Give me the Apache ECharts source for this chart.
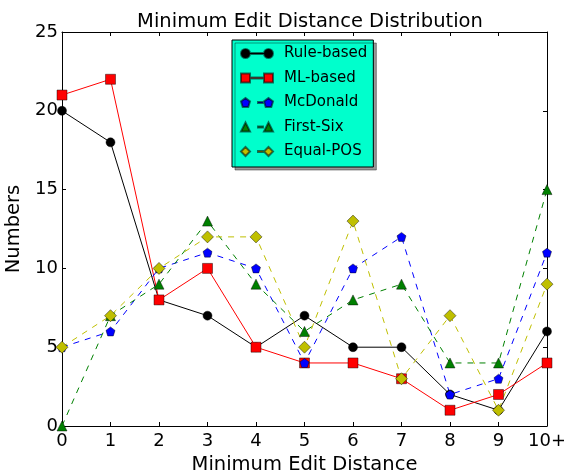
<!DOCTYPE html>
<html>
<head>
<meta charset="utf-8">
<script src="https://cdn.jsdelivr.net/npm/echarts@6/dist/echarts.min.js"></script>
<style>
  html, body { margin: 0; padding: 0; background: #fff; }
  #chart { width: 564px; height: 475px; }
</style>
</head>
<body>
<div id="chart"></div>
<script>
// categories on the x axis
const distances = ['0', '1', '2', '3', '4', '5', '6', '7', '8', '9', '10+']
// counts per method
const ruleBased = [20, 18, 8, 7, 5, 7, 5, 5, 2, 1, 6]
const mlBased = [21, 22, 8, 10, 5, 4, 4, 3, 1, 2, 4]
const mcDonald = [5, 6, 10, 11, 10, 4, 10, 12, 2, 3, 11]
const firstSix = [0, 7, 9, 13, 9, 6, 8, 9, 4, 4, 15]
const equalPos = [5, 7, 10, 12, 12, 5, 13, 3, 7, 1, 9]

const font = 'DejaVu Sans'
const pentagon = 'path://M0,-1 L0.951,-0.309 L0.588,0.809 L-0.588,0.809 L-0.951,-0.309 Z'

// legend icons: marker - line - marker, like matplotlib (box 32 x 9)
const marker = {
  circle: x => 'M' + x + ',4.5 a4.5,4.5 0 1,0 9,0 a4.5,4.5 0 1,0 -9,0 ',
  rect: x => 'M' + x + ',0 h9 v9 h-9 Z ',
  pentagon: x => 'M' + (x + 4.5) + ',0 L' + (x + 9) + ',3.4 L' + (x + 7.3) + ',9 L' + (x + 1.7) + ',9 L' + x + ',3.4 Z ',
  triangle: x => 'M' + x + ',9 L' + (x + 4.5) + ',0 L' + (x + 9) + ',9 Z ',
  diamond: x => 'M' + (x + 4.5) + ',0 L' + (x + 9) + ',4.5 L' + (x + 4.5) + ',9 L' + x + ',4.5 Z '
}
function legendIcon(shape, dashed) {
  let p = 'path://' + marker[shape](0) + marker[shape](23)
  if (dashed) {
    p += 'M17,4 h5 v1 h-5 Z '
  } else {
    p += 'M9,4 h14 v1 h-14 Z '
  }
  return p
}

const chart = echarts.init(document.getElementById('chart'))

function makeSeries(name, data, color, symbol, size, dashed) {
  return {
    name: name,
    type: 'line',
    data: data,
    xAxisIndex: 0,
    yAxisIndex: 0,
    symbol: symbol,
    symbolSize: size,
    showAllSymbol: true,
    clip: true,
    lineStyle: { color: color, width: 1, type: dashed ? [6, 6] : 'solid' },
    itemStyle: { color: color, borderColor: 'rgba(0,0,0,0.55)', borderWidth: 0.8 },
    emphasis: { disabled: true },
    animation: false
  }
}

const tickLabel = { fontFamily: font, fontSize: 18, color: '#000' }
const nameStyle = { fontFamily: font, fontSize: 19.5, color: '#000' }

const option = {
  animation: false,
  title: {
    text: 'Minimum Edit Distance Distribution',
    left: 305,
    textAlign: 'center',
    top: 7,
    textStyle: { fontFamily: font, fontSize: 19.5, fontWeight: 'normal', color: '#000' }
  },
  grid: { left: 62, right: 17, top: 32, bottom: 49, containLabel: false, outerBoundsMode: 'none' },
  legend: {
    orient: 'vertical',
    left: 232,
    top: 40,
    padding: [6, 6, 8, 8],
    itemGap: 9.5,
    itemWidth: 32,
    itemHeight: 9,
    backgroundColor: '#00ffcc',
    borderColor: '#000',
    borderWidth: 1,
    shadowColor: 'rgba(0,0,0,0.4)',
    shadowBlur: 0,
    shadowOffsetX: 3,
    shadowOffsetY: 3,
    textStyle: { fontFamily: font, fontSize: 15, color: '#000', padding: [0, 0, 0, 6] },
    data: [
      { name: 'Rule-based', icon: legendIcon('circle', false) },
      { name: 'ML-based', icon: legendIcon('rect', false) },
      { name: 'McDonald', icon: legendIcon('pentagon', true) },
      { name: 'First-Six', icon: legendIcon('triangle', true) },
      { name: 'Equal-POS', icon: legendIcon('diamond', true) }
    ]
  },
  xAxis: [
    {
      type: 'category',
      data: distances,
      boundaryGap: false,
      name: 'Minimum Edit Distance',
      nameLocation: 'middle',
      nameGap: 27,
      nameTextStyle: nameStyle,
      axisLine: { onZero: false, lineStyle: { color: '#000', width: 1 } },
      axisTick: { inside: true, length: 4, interval: 0, lineStyle: { color: '#000' } },
      axisLabel: Object.assign({ margin: 6, interval: 0 }, tickLabel),
      splitLine: { show: false }
    },
    {
      type: 'category',
      data: distances,
      boundaryGap: false,
      position: 'top',
      axisLine: { onZero: false, lineStyle: { color: '#000', width: 1 } },
      axisTick: { inside: true, length: 4, interval: 0, lineStyle: { color: '#000' } },
      axisLabel: { show: false },
      splitLine: { show: false }
    }
  ],
  yAxis: [
    {
      type: 'value',
      min: 0,
      max: 25,
      interval: 5,
      name: 'Numbers',
      nameLocation: 'middle',
      nameGap: 20,
      nameTextStyle: nameStyle,
      axisLine: { show: true, onZero: false, lineStyle: { color: '#000', width: 1 } },
      axisTick: { show: true, inside: true, length: 4, lineStyle: { color: '#000' } },
      axisLabel: Object.assign({ margin: 4 }, tickLabel),
      splitLine: { show: false }
    },
    {
      type: 'value',
      min: 0,
      max: 25,
      interval: 5,
      position: 'right',
      axisLine: { show: true, onZero: false, lineStyle: { color: '#000', width: 1 } },
      axisTick: { show: true, inside: true, length: 4, lineStyle: { color: '#000' } },
      axisLabel: { show: false },
      splitLine: { show: false }
    }
  ],
  series: [
    makeSeries('Rule-based', ruleBased, '#000000', 'circle', 9, false),
    makeSeries('ML-based', mlBased, '#ff0000', 'rect', 10, false),
    makeSeries('McDonald', mcDonald, '#0000ff', pentagon, 9, true),
    makeSeries('First-Six', firstSix, '#008000', 'triangle', 10, true),
    makeSeries('Equal-POS', equalPos, '#bfbf00', 'diamond', 12, true)
  ]
}

chart.setOption(option)
</script>
</body>
</html>
